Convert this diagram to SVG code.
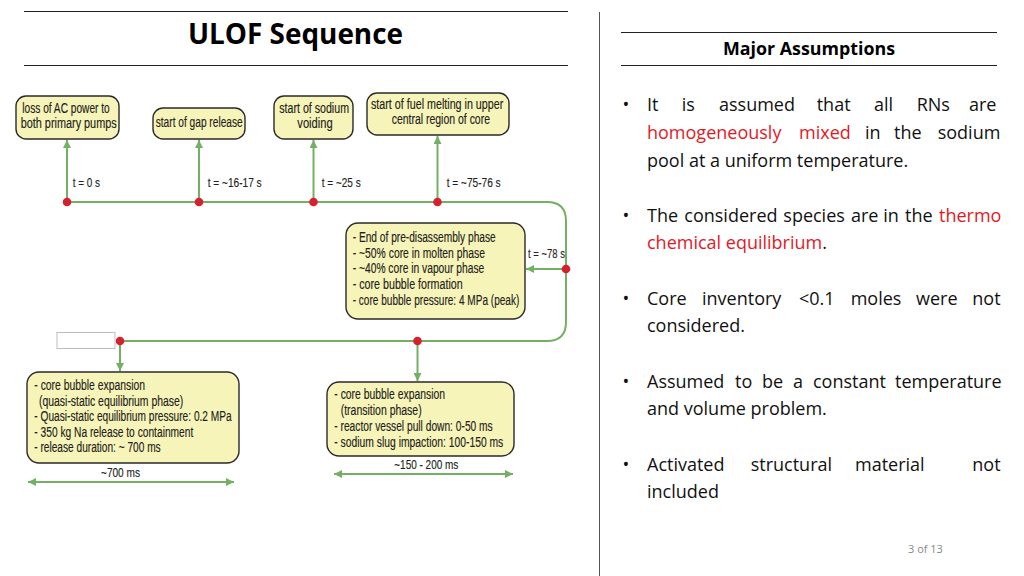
<svg xmlns="http://www.w3.org/2000/svg" width="1024" height="576" viewBox="0 0 1024 576">
<style>
.rule{stroke:#222;stroke-width:1.2;fill:none}
.node{fill:#f7f4b9;stroke:#2a2a2a;stroke-width:1.4}
.nt{font-family:"Liberation Sans",Arial,sans-serif;font-size:14px;fill:#231f20;stroke:#231f20;stroke-width:0.15}
.tl{font-family:"Liberation Sans",Arial,sans-serif;font-size:13.5px;fill:#231f20;stroke:#231f20;stroke-width:0.15}
.conn{stroke:#74b064;stroke-width:2;fill:none}
.dot{fill:#d7202e}
.bt{font-family:"Open Sans",sans-serif;font-size:18px;fill:#111}
.red{fill:#e4181f}
.h{font-family:"Open Sans",sans-serif;font-weight:bold;fill:#000}
</style>
<defs>
<marker id="ah" viewBox="0 0 10 10" refX="10" refY="5" markerWidth="9" markerHeight="8" markerUnits="userSpaceOnUse" orient="auto-start-reverse">
<path d="M0,0 L10,5 L0,10 z" fill="#74b064"/>
</marker>
</defs>
<rect width="1024" height="576" fill="#fff"/>

<g id="header">
<line class="rule" x1="24" y1="11.5" x2="568" y2="11.5"/>
<line class="rule" x1="24" y1="65.5" x2="568" y2="65.5"/>
<text class="h" x="188" y="44" font-size="28" textLength="215" lengthAdjust="spacingAndGlyphs">ULOF Sequence</text>
<line x1="599.5" y1="12" x2="599.5" y2="576" stroke="#555" stroke-width="1"/>
<line class="rule" x1="621" y1="32.5" x2="997" y2="32.5"/>
<line class="rule" x1="621" y1="65.5" x2="997" y2="65.5"/>
<text class="h" x="723" y="55" font-size="17" textLength="172" lengthAdjust="spacingAndGlyphs">Major Assumptions</text>
</g>

<g id="connectors">
<path class="conn" d="M67,202 H547 Q566,202 566,221 V322 Q566,341 547,341 H120"/>
<line class="conn" x1="67" y1="202" x2="67" y2="140" marker-end="url(#ah)"/>
<line class="conn" x1="199" y1="202" x2="199" y2="140" marker-end="url(#ah)"/>
<line class="conn" x1="313.5" y1="202" x2="313.5" y2="140" marker-end="url(#ah)"/>
<line class="conn" x1="437.5" y1="202" x2="437.5" y2="136" marker-end="url(#ah)"/>
<line class="conn" x1="566" y1="269" x2="526" y2="269" marker-end="url(#ah)"/>
<line class="conn" x1="120" y1="341" x2="120" y2="371" marker-end="url(#ah)"/>
<line class="conn" x1="417.5" y1="341" x2="417.5" y2="381" marker-end="url(#ah)"/>
<line class="conn" x1="28" y1="482" x2="234" y2="482" marker-start="url(#ah)" marker-end="url(#ah)"/>
<line class="conn" x1="334" y1="474" x2="513" y2="474" marker-start="url(#ah)" marker-end="url(#ah)"/>
<circle class="dot" cx="67" cy="202" r="4.3"/>
<circle class="dot" cx="199" cy="202" r="4.3"/>
<circle class="dot" cx="313.5" cy="202" r="4.3"/>
<circle class="dot" cx="437.5" cy="202" r="4.3"/>
<circle class="dot" cx="566" cy="269" r="4.3"/>
<circle class="dot" cx="417.5" cy="341" r="4.3"/>
<circle class="dot" cx="120" cy="341" r="4.3"/>
<text class="tl" x="72.7" y="187" textLength="27.3" lengthAdjust="spacingAndGlyphs">t = 0 s</text>
<text class="tl" x="207.7" y="187" textLength="54" lengthAdjust="spacingAndGlyphs">t = ~16-17 s</text>
<text class="tl" x="321.7" y="187" textLength="39" lengthAdjust="spacingAndGlyphs">t = ~25 s</text>
<text class="tl" x="446.7" y="187" textLength="54" lengthAdjust="spacingAndGlyphs">t = ~75-76 s</text>
<text class="tl" x="528" y="257.5" textLength="37" lengthAdjust="spacingAndGlyphs">t = ~78 s</text>
<text class="tl" x="101" y="477" textLength="39" lengthAdjust="spacingAndGlyphs">~700 ms</text>
<text class="tl" x="394.3" y="468.5" textLength="64" lengthAdjust="spacingAndGlyphs">~150 - 200 ms</text>
</g>

<g id="n1">
<rect class="node" x="16" y="96" width="103" height="43" rx="10"/>
<text class="nt" x="22.3" y="113.3" textLength="87.4" lengthAdjust="spacingAndGlyphs">loss of AC power to</text>
<text class="nt" x="20.7" y="128.3" textLength="96" lengthAdjust="spacingAndGlyphs">both primary pumps</text>
</g>
<g id="n2">
<rect class="node" x="153" y="108" width="92" height="31" rx="10"/>
<text class="nt" x="155.7" y="126.7" textLength="87" lengthAdjust="spacingAndGlyphs">start of gap release</text>
</g>
<g id="n3">
<rect class="node" x="274" y="96" width="79" height="43" rx="10"/>
<text class="nt" x="279.3" y="113.3" textLength="69.7" lengthAdjust="spacingAndGlyphs">start of sodium</text>
<text class="nt" x="297.3" y="128.3" textLength="35.4" lengthAdjust="spacingAndGlyphs">voiding</text>
</g>
<g id="n4">
<rect class="node" x="367" y="93" width="142" height="42" rx="10"/>
<text class="nt" x="371" y="109" textLength="132.3" lengthAdjust="spacingAndGlyphs">start of fuel melting in upper</text>
<text class="nt" x="391.7" y="124.3" textLength="98.3" lengthAdjust="spacingAndGlyphs">central region of core</text>
</g>
<g id="n5">
<rect class="node" x="346" y="223" width="179" height="96" rx="12"/>
<text class="nt" x="352.7" y="242.3" textLength="143" lengthAdjust="spacingAndGlyphs">- End of pre-disassembly phase</text>
<text class="nt" x="352.7" y="257.8" textLength="132.3" lengthAdjust="spacingAndGlyphs">- ~50% core in molten phase</text>
<text class="nt" x="352.7" y="273.3" textLength="131.6" lengthAdjust="spacingAndGlyphs">- ~40% core in vapour phase</text>
<text class="nt" x="352.7" y="289" textLength="110" lengthAdjust="spacingAndGlyphs">- core bubble formation</text>
<text class="nt" x="352.7" y="305" textLength="166.6" lengthAdjust="spacingAndGlyphs">- core bubble pressure: 4 MPa (peak)</text>
</g>
<g id="n6">
<rect x="57" y="332.5" width="58" height="16" fill="#fff" stroke="#bdbdbd" stroke-width="1"/>
</g>
<g id="n7">
<rect class="node" x="27" y="372" width="212" height="91" rx="12"/>
<text class="nt" x="34.3" y="390" textLength="110.7" lengthAdjust="spacingAndGlyphs">- core bubble expansion</text>
<text class="nt" x="39" y="405.5" textLength="144.3" lengthAdjust="spacingAndGlyphs">(quasi-static equilibrium phase)</text>
<text class="nt" x="34.3" y="421" textLength="197.4" lengthAdjust="spacingAndGlyphs">- Quasi-static equilibrium pressure: 0.2 MPa</text>
<text class="nt" x="34.3" y="436.7" textLength="159" lengthAdjust="spacingAndGlyphs">- 350 kg Na release to containment</text>
<text class="nt" x="34.3" y="452.3" textLength="126.4" lengthAdjust="spacingAndGlyphs">- release duration: ~ 700 ms</text>
</g>
<g id="n8">
<rect class="node" x="327" y="382" width="187" height="74" rx="12"/>
<text class="nt" x="334.3" y="399.3" textLength="110.7" lengthAdjust="spacingAndGlyphs">- core bubble expansion</text>
<text class="nt" x="340.7" y="415" textLength="81" lengthAdjust="spacingAndGlyphs">(transition phase)</text>
<text class="nt" x="334.3" y="430.7" textLength="158.4" lengthAdjust="spacingAndGlyphs">- reactor vessel pull down: 0-50 ms</text>
<text class="nt" x="334.3" y="446.7" textLength="169" lengthAdjust="spacingAndGlyphs">- sodium slug impaction: 100-150 ms</text>
</g>

<g id="assumptions" class="bt">
<text x="626" y="110.5" text-anchor="middle">•</text>
<text y="110.5"><tspan x="647">It</tspan><tspan x="681.7">is</tspan><tspan x="719">assumed</tspan><tspan x="816.7">that</tspan><tspan x="874">all</tspan><tspan x="916.7">RNs</tspan><tspan x="969">are</tspan></text>
<text y="138.5"><tspan x="647" class="red">homogeneously</tspan><tspan x="799" class="red">mixed</tspan><tspan x="865">in</tspan><tspan x="894">the</tspan><tspan x="937.7">sodium</tspan></text>
<text x="647" y="166.5">pool at a uniform temperature.</text>

<text x="626" y="221.5" text-anchor="middle">•</text>
<text y="221.5"><tspan x="647">The</tspan><tspan x="684.3">considered</tspan><tspan x="783.3">species</tspan><tspan x="851">are</tspan><tspan x="883.3">in</tspan><tspan x="905">the</tspan><tspan x="939" class="red">thermo</tspan></text>
<text x="647" y="249"><tspan class="red">chemical equilibrium</tspan>.</text>

<text x="626" y="305" text-anchor="middle">•</text>
<text y="305"><tspan x="647">Core</tspan><tspan x="702">inventory</tspan><tspan x="799">&lt;0.1</tspan><tspan x="850.7">moles</tspan><tspan x="916">were</tspan><tspan x="972.3">not</tspan></text>
<text x="647" y="332">considered.</text>

<text x="626" y="388" text-anchor="middle">•</text>
<text y="388"><tspan x="647">Assumed</tspan><tspan x="735">to</tspan><tspan x="762">be</tspan><tspan x="793">a</tspan><tspan x="813">constant</tspan><tspan x="895">temperature</tspan></text>
<text x="647" y="415">and volume problem.</text>

<text x="626" y="470.5" text-anchor="middle">•</text>
<text y="470.5"><tspan x="647">Activated</tspan><tspan x="750.7">structural</tspan><tspan x="855">material</tspan><tspan x="972.3">not</tspan></text>
<text x="647" y="497.5">included</text>
</g>

<text x="908" y="553" font-family="Open Sans, sans-serif" font-size="11" fill="#888">3 of 13</text>
</svg>
